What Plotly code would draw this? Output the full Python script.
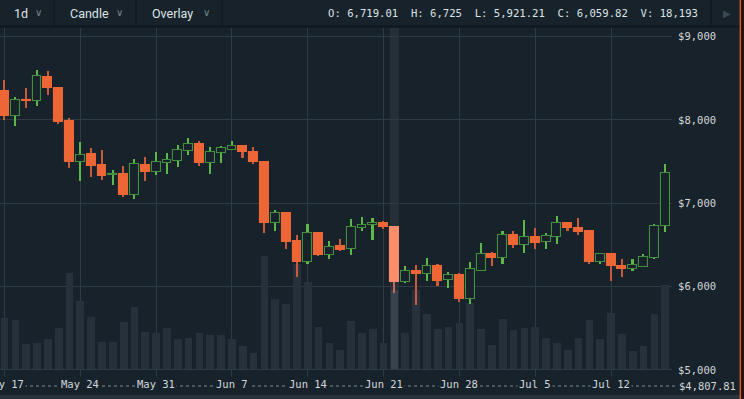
import plotly.graph_objects as go
import pandas as pd

# ---------------- data ----------------
dates = pd.date_range("2018-05-17", "2018-07-17", freq="D")
opens = [8348, 8051, 8240, 8228, 8519, 8387, 7991, 7499, 7588, 7463,
         7340, 7352, 7100, 7463, 7376, 7480, 7508, 7631, 7712, 7480,
         7607, 7643, 7688, 7620, 7500, 6767, 6884, 6551, 6299, 6640,
         6383, 6484, 6448, 6700, 6736, 6764, 6719.01, 6055, 6187, 6148,
         6251, 6076, 6140, 5848, 6191, 6388, 6347, 6616, 6496, 6592,
         6532, 6592, 6760, 6707, 6668, 6299, 6392, 6251, 6215, 6240,
         6340, 6728]
highs = [8480, 8276, 8387, 8600, 8588, 8396, 8027, 7736, 7664, 7640,
         7400, 7447, 7528, 7556, 7612, 7604, 7700, 7780, 7748, 7676,
         7688, 7748, 7700, 7676, 7510, 6920, 6895, 6620, 6752, 6660,
         6548, 6572, 6812, 6832, 6820, 6788, 6725, 6247, 6260, 6340,
         6268, 6176, 6164, 6299, 6524, 6420, 6664, 6671, 6800, 6700,
         6640, 6848, 6780, 6820, 6680, 6400, 6400, 6332, 6328, 6392,
         6748, 7472]
lows = [8000, 7924, 8147, 8171, 8303, 7948, 7427, 7271, 7319, 7280,
        7220, 7080, 7052, 7271, 7340, 7348, 7440, 7580, 7448, 7356,
        7488, 7636, 7540, 7468, 6647, 6664, 6448, 6119, 6272, 6368,
        6328, 6431, 6380, 6671, 6560, 6688, 5921.21, 6040, 5776, 6071,
        6008, 5987, 5819, 5792, 6184, 6252, 6272, 6467, 6408, 6448,
        6452, 6512, 6671, 6623, 6275, 6275, 6071, 6119, 6184, 6232,
        6328, 6660]
closes = [8051, 8240, 8232, 8528, 8387, 7979, 7499, 7583, 7451, 7331,
          7348, 7100, 7468, 7376, 7492, 7520, 7640, 7708, 7488, 7612,
          7660, 7684, 7616, 7492, 6767, 6884, 6539, 6299, 6640, 6380,
          6479, 6440, 6712, 6736, 6760, 6712, 6059.82, 6187, 6148, 6251,
          6071, 6136, 5848, 6208, 6388, 6347, 6616, 6500, 6592, 6527,
          6608, 6760, 6700, 6656, 6299, 6392, 6248, 6215, 6256, 6352,
          6731, 7360]
volumes = [11730, 11410, 5750, 6050, 7040, 9500, 22150, 15780, 12030, 6280,
           6280, 10810, 14330, 8650, 8350, 9570, 6970, 7200, 8350, 7890,
           7890, 6970, 5360, 3750, 26130, 16170, 15020, 24220, 20150, 9660,
           6120, 4440, 11110, 8420, 9200, 5980, 18193, 8350, 18240, 12790,
           9200, 9730, 10720, 15320, 9340, 5590, 11500, 8970, 9430, 9660,
           7200, 6120, 4510, 7200, 11340, 6970, 13020, 8190, 4140, 5360,
           12720, 19390]

price_ticks = [5000, 6000, 7000, 8000, 9000]
price_tick_text = ["$5,000", "$6,000", "$7,000", "$8,000", "$9,000"]
price_min_label = 4807.81
week_ticks = pd.date_range("2018-05-17", "2018-07-12", freq="7D")
week_labels = ["May 17", "May 24", "May 31", "Jun 7", "Jun 14",
               "Jun 21", "Jun 28", "Jul 5", "Jul 12"]
hover_date = pd.Timestamp("2018-06-22")
toolbar_items = ["1d", "Candle", "Overlay"]
ohlc_text = "O: 6,719.01  H: 6,725  L: 5,921.21  C: 6,059.82  V: 18,193"

# ---------------- style ----------------
BG = "#17222b"
GRID = "#2e3a44"
ORANGE = "#ee6536"
ORANGE_WICK = "#c95a3b"
HOVER_BODY = "#fb8d6c"
HOVER_WICK = "#c8694f"
GREEN_EDGE = "#428f3d"
GREEN_WICK = "#5cb84a"
VOL = "#27313b"
VOL_HI = "#39434d"
TXT = "#d3d8dc"
MONO = "DejaVu Sans Mono, Liberation Mono, monospace"

W, H = 744, 399
ML, MR, MT, MB = 0, 72, 28, 13
PW, PH = W - ML - MR, H - MT - MB


def px(xp):
    return (xp - ML) / PW


def py(yp):
    return (H - MB - yp) / PH


DAY = 86400000
x_start = dates[0] - pd.Timedelta(hours=10)
x_end = dates[-1] + pd.Timedelta(hours=15)

is_hover = [d == hover_date for d in dates]
up = [c >= o for o, c in zip(opens, closes)]
body_fill = [HOVER_BODY if hv else (BG if u else ORANGE) for u, hv in zip(up, is_hover)]
body_edge = [HOVER_BODY if hv else (GREEN_EDGE if u else ORANGE) for u, hv in zip(up, is_hover)]
wick_col = [HOVER_WICK if hv else (GREEN_WICK if u else ORANGE_WICK) for u, hv in zip(up, is_hover)]
vol_col = [VOL_HI if hv else VOL for hv in is_hover]

fig = go.Figure()

# volume (main y axis, drawn below)
fig.add_trace(go.Bar(x=dates, y=volumes, width=0.71 * DAY, marker_color=vol_col,
                     marker_line_width=0, yaxis="y", hoverinfo="skip"))
# wicks
fig.add_trace(go.Bar(x=dates, base=lows, y=[h - l for h, l in zip(highs, lows)],
                     width=0.15 * DAY, marker_color=wick_col, marker_line_width=0,
                     yaxis="y2", hoverinfo="skip"))
# bodies
fig.add_trace(go.Bar(x=dates, base=[min(o, c) for o, c in zip(opens, closes)],
                     y=[abs(c - o) for o, c in zip(opens, closes)],
                     width=0.82 * DAY, marker_color=body_fill,
                     marker_line=dict(color=body_edge, width=1.1),
                     yaxis="y2", hoverinfo="skip"))

shapes = []
# hover band
shapes.append(dict(type="rect", xref="x", yref="paper",
                   x0=hover_date - pd.Timedelta(hours=10), x1=hover_date + pd.Timedelta(hours=10),
                   y0=py(369.5), y1=1, fillcolor="rgba(255,255,255,0.06)",
                   line_width=0, layer="below"))
# dotted bottom price line
shapes.append(dict(type="line", xref="paper", yref="paper", x0=0, x1=px(677), y0=0, y1=0,
                   line=dict(color="#7f8990", width=1, dash="dot")))
# toolbar bottom border
shapes.append(dict(type="line", xref="paper", yref="paper", x0=0, x1=px(740), y0=py(26.5), y1=py(26.5),
                   line=dict(color="#0e151b", width=1.5)))
# toolbar dividers
for xd in [54, 136, 222, 711]:
    shapes.append(dict(type="line", xref="paper", yref="paper", x0=px(xd), x1=px(xd),
                       y0=py(0), y1=py(26), line=dict(color="#0f161c", width=1)))
# bottom strip
shapes.append(dict(type="rect", xref="paper", yref="paper", x0=px(0), x1=px(744),
                   y0=py(399), y1=py(395), fillcolor="#2b343c", line_width=0))
# right edge
shapes.append(dict(type="rect", xref="paper", yref="paper", x0=px(740.5), x1=px(744),
                   y0=py(399), y1=py(0), fillcolor="#2a100c", line_width=0))
shapes.append(dict(type="line", xref="paper", yref="paper", x0=px(740.3), x1=px(740.3),
                   y0=py(399), y1=py(0), line=dict(color="#e2652f", width=1.3)))

annotations = []
# x labels
for d, t in zip(week_ticks, week_labels):
    annotations.append(dict(x=d, xref="x", y=0, yref="paper", yanchor="middle", xanchor="center",
                            yshift=2, text=t, showarrow=False, bgcolor=BG, borderpad=1,
                            font=dict(family=MONO, size=10.5, color=TXT)))
# bottom price label
annotations.append(dict(x=1, xref="paper", y=0, yref="paper", xanchor="left", yanchor="middle",
                        xshift=5, text="$" + f"{price_min_label:,.2f}", showarrow=False,
                        font=dict(family=MONO, size=10.5, color=TXT)))
# toolbar
tb_x = [12, 68, 150]
chev_x = [33, 114, 201]
for t, xx, cx in zip(toolbar_items, tb_x, chev_x):
    annotations.append(dict(x=px(xx), xref="paper", y=py(13), yref="paper", xanchor="left",
                            yanchor="middle", text=t, showarrow=False,
                            font=dict(family="Roboto, Liberation Sans", size=12.5, color="#dde2e6")))
    annotations.append(dict(x=px(cx), xref="paper", y=py(12), yref="paper", xanchor="left",
                            yanchor="middle", text="∨", showarrow=False,
                            font=dict(family="DejaVu Sans", size=10, color="#7b858e")))
annotations.append(dict(x=px(700), xref="paper", y=py(13), yref="paper", xanchor="right",
                        yanchor="middle", text=ohlc_text.replace("  ", "&nbsp; "), showarrow=False,
                        font=dict(family="DejaVu Sans Mono, Liberation Mono", size=10.6, color="#dde2e6")))
annotations.append(dict(x=px(721), xref="paper", y=py(13), yref="paper", xanchor="left",
                        yanchor="middle", text="▶", showarrow=False,
                        font=dict(family="DejaVu Sans", size=10, color="#3c4751")))

fig.update_layout(
    width=W, height=H, margin=dict(l=ML, r=MR, t=MT, b=MB, pad=0),
    paper_bgcolor=BG, plot_bgcolor=BG, showlegend=False, barmode="overlay",
    bargap=0, hovermode=False,
    xaxis=dict(type="date", range=[x_start, x_end], tickvals=list(week_ticks),
               showticklabels=False, showgrid=True, gridcolor=GRID, gridwidth=1,
               zeroline=False, showline=False, ticks=""),
    yaxis=dict(range=[-3850, 78500], showgrid=False, showticklabels=False,
               zeroline=False, showline=False, fixedrange=True),
    yaxis2=dict(overlaying="y", side="right", range=[price_min_label, 9103.6],
                tickvals=price_ticks, ticktext=price_tick_text, showgrid=True,
                gridcolor=GRID, gridwidth=1, zeroline=False, showline=False,
                ticks="outside", ticklen=3, tickcolor="rgba(0,0,0,0)",
                tickfont=dict(family=MONO, size=10.5, color=TXT)),
    shapes=shapes, annotations=annotations,
)

fig.write_html("out.html", config={"displayModeBar": False},
               post_script="document.body.style.margin='0';document.body.style.background='" + BG + "';")
